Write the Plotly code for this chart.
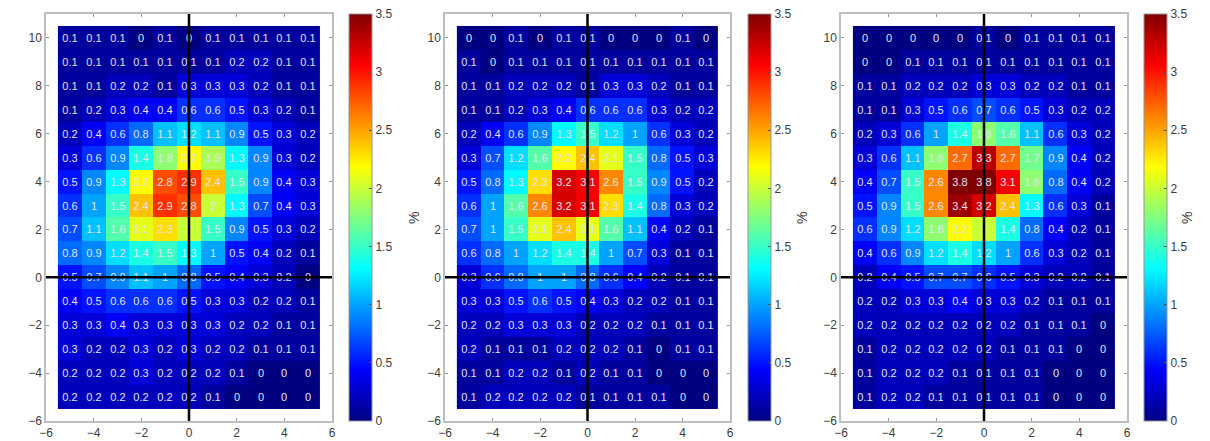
import plotly.graph_objects as go

x_centers = [-5, -4, -3, -2, -1, 0, 1, 2, 3, 4, 5]
y_centers = [10, 9, 8, 7, 6, 5, 4, 3, 2, 1, 0, -1, -2, -3, -4, -5]

panel1_values = [
    [0.1, 0.1, 0.1, 0, 0.1, 0, 0.1, 0.1, 0.1, 0.1, 0.1],
    [0.1, 0.1, 0.1, 0.1, 0.1, 0.1, 0.1, 0.2, 0.2, 0.1, 0.1],
    [0.1, 0.1, 0.2, 0.2, 0.1, 0.3, 0.3, 0.3, 0.2, 0.1, 0.1],
    [0.1, 0.2, 0.3, 0.4, 0.4, 0.6, 0.6, 0.5, 0.3, 0.2, 0.1],
    [0.2, 0.4, 0.6, 0.8, 1.1, 1.2, 1.1, 0.9, 0.5, 0.3, 0.2],
    [0.3, 0.6, 0.9, 1.4, 1.8, 2.2, 1.9, 1.3, 0.9, 0.3, 0.2],
    [0.5, 0.9, 1.3, 2.2, 2.8, 2.9, 2.4, 1.5, 0.9, 0.4, 0.3],
    [0.6, 1, 1.5, 2.4, 2.9, 2.8, 2, 1.3, 0.7, 0.4, 0.3],
    [0.7, 1.1, 1.6, 2.1, 2.3, 2, 1.5, 0.9, 0.5, 0.3, 0.2],
    [0.8, 0.9, 1.2, 1.4, 1.5, 1.3, 1, 0.5, 0.4, 0.2, 0.1],
    [0.5, 0.7, 0.9, 1.1, 1, 0.8, 0.5, 0.4, 0.3, 0.2, 0],
    [0.4, 0.5, 0.6, 0.6, 0.6, 0.5, 0.3, 0.3, 0.2, 0.2, 0.1],
    [0.3, 0.3, 0.4, 0.3, 0.3, 0.3, 0.3, 0.2, 0.2, 0.1, 0.1],
    [0.3, 0.2, 0.2, 0.3, 0.2, 0.3, 0.2, 0.2, 0.1, 0.1, 0.1],
    [0.2, 0.2, 0.2, 0.3, 0.2, 0.2, 0.2, 0.1, 0, 0, 0],
    [0.2, 0.2, 0.2, 0.2, 0.2, 0.2, 0.1, 0, 0, 0, 0],
]

panel2_values = [
    [0, 0, 0.1, 0, 0.1, 0.1, 0, 0, 0, 0.1, 0],
    [0.1, 0, 0.1, 0.1, 0.1, 0.1, 0.1, 0.1, 0.1, 0.1, 0.1],
    [0.1, 0.1, 0.2, 0.2, 0.2, 0.1, 0.3, 0.3, 0.2, 0.1, 0.1],
    [0.1, 0.1, 0.2, 0.3, 0.4, 0.6, 0.6, 0.6, 0.3, 0.2, 0.2],
    [0.2, 0.4, 0.6, 0.9, 1.3, 1.5, 1.2, 1, 0.6, 0.3, 0.2],
    [0.3, 0.7, 1.2, 1.6, 2.2, 2.4, 2.1, 1.5, 0.8, 0.5, 0.3],
    [0.5, 0.8, 1.3, 2.3, 3.2, 3.1, 2.6, 1.5, 0.9, 0.5, 0.2],
    [0.6, 1, 1.6, 2.6, 3.2, 3.1, 2.3, 1.4, 0.8, 0.3, 0.2],
    [0.7, 1, 1.5, 2.1, 2.4, 2.1, 1.6, 1.1, 0.4, 0.2, 0.1],
    [0.6, 0.8, 1, 1.2, 1.4, 1.4, 1, 0.7, 0.3, 0.1, 0.1],
    [0.3, 0.6, 0.8, 1, 1, 0.8, 0.6, 0.4, 0.2, 0.1, 0.1],
    [0.3, 0.3, 0.5, 0.6, 0.5, 0.4, 0.3, 0.2, 0.2, 0.1, 0.1],
    [0.2, 0.2, 0.3, 0.3, 0.3, 0.2, 0.2, 0.2, 0.1, 0.1, 0.1],
    [0.2, 0.1, 0.1, 0.1, 0.2, 0.2, 0.2, 0.1, 0, 0.1, 0.1],
    [0.1, 0.1, 0.2, 0.2, 0.1, 0.2, 0.1, 0.1, 0, 0, 0],
    [0.1, 0.2, 0.2, 0.2, 0.2, 0.1, 0.1, 0.1, 0.1, 0, 0],
]

panel3_values = [
    [0, 0, 0, 0, 0, 0.1, 0, 0.1, 0.1, 0.1, 0.1],
    [0, 0, 0.1, 0.1, 0.1, 0.1, 0.1, 0.1, 0.1, 0.1, 0.1],
    [0.1, 0.1, 0.2, 0.2, 0.2, 0.3, 0.3, 0.2, 0.2, 0.1, 0.1],
    [0.1, 0.1, 0.3, 0.5, 0.6, 0.7, 0.6, 0.5, 0.3, 0.2, 0.2],
    [0.2, 0.3, 0.6, 1, 1.4, 1.8, 1.6, 1.1, 0.6, 0.3, 0.2],
    [0.3, 0.6, 1.1, 1.8, 2.7, 3.3, 2.7, 1.7, 0.9, 0.4, 0.2],
    [0.4, 0.7, 1.5, 2.6, 3.8, 3.8, 3.1, 1.8, 0.8, 0.4, 0.2],
    [0.5, 0.9, 1.5, 2.6, 3.4, 3.2, 2.4, 1.3, 0.6, 0.3, 0.1],
    [0.6, 0.9, 1.2, 1.8, 2.2, 2, 1.4, 0.8, 0.4, 0.2, 0.1],
    [0.4, 0.6, 0.9, 1.2, 1.4, 1.2, 1, 0.6, 0.3, 0.2, 0.1],
    [0.2, 0.4, 0.5, 0.7, 0.7, 0.6, 0.5, 0.3, 0.2, 0.2, 0.1],
    [0.2, 0.2, 0.3, 0.3, 0.4, 0.3, 0.3, 0.2, 0.1, 0.1, 0.1],
    [0.2, 0.2, 0.2, 0.2, 0.2, 0.2, 0.2, 0.1, 0.1, 0.1, 0],
    [0.1, 0.2, 0.2, 0.2, 0.2, 0.2, 0.1, 0.1, 0.1, 0, 0],
    [0.1, 0.2, 0.2, 0.2, 0.1, 0.1, 0.1, 0.1, 0, 0, 0],
    [0.1, 0.2, 0.2, 0.1, 0.1, 0.1, 0.1, 0.1, 0, 0, 0],
]

x_ticks = [-6, -4, -2, 0, 2, 4, 6]
y_ticks = [-6, -4, -2, 0, 2, 4, 6, 8, 10]
cbar_ticks = [0, 0.5, 1, 1.5, 2, 2.5, 3, 3.5]
cbar_title = "%"

jet = [
    [0.0, "rgb(0,0,128)"],
    [0.125, "rgb(0,0,255)"],
    [0.375, "rgb(0,255,255)"],
    [0.625, "rgb(255,255,0)"],
    [0.875, "rgb(255,0,0)"],
    [1.0, "rgb(128,0,0)"],
]

W, H = 1210, 441
OFF = 8  # page body margin offset of the figure in the browser
ax_px = [(46 - OFF, 332 - OFF), (445 - OFF, 730 - OFF), (841 - OFF, 1127 - OFF)]
cb_px = [349 - OFF, 748 - OFF, 1144 - OFF]
pct_px = [404 - OFF, 802 - OFF, 1197 - OFF]
top_px, bot_px = 14 - OFF, 421 - OFF
pct_y = 218 - OFF

def fmt(v):
    return f"{v:g}"

fig = go.Figure()
panels = [panel1_values, panel2_values, panel3_values]
font_family = "Liberation Sans, Arial, sans-serif"

for i, vals in enumerate(panels):
    xa = "x" if i == 0 else f"x{i+1}"
    ya = "y" if i == 0 else f"y{i+1}"
    fig.add_trace(go.Heatmap(
        x=x_centers, y=y_centers, z=vals,
        text=[[fmt(v) for v in row] for row in vals],
        texttemplate="%{text}",
        textfont=dict(family=font_family, size=11, color="rgb(225,228,240)"),
        colorscale=jet, zmin=0, zmax=3.5,
        xaxis=xa, yaxis=ya,
        hoverinfo="skip",
        colorbar=dict(
            x=cb_px[i] / W, xanchor="left", xpad=0, ypad=0,
            y=1 - (top_px + bot_px) / 2 / H, yanchor="middle",
            len=bot_px - top_px, lenmode="pixels",
            thickness=23, thicknessmode="pixels",
            outlinewidth=1, outlinecolor="rgb(150,150,150)",
            tickvals=cbar_ticks, ticks="inside", ticklen=3,
            tickcolor="rgb(80,80,80)",
            ticklabeloverflow="allow",
            tickfont=dict(family=font_family, size=12, color="rgb(60,60,60)"),
        ),
    ))
    axis_common = dict(
        showgrid=False, zeroline=False, showline=True, mirror="ticks",
        linecolor="rgb(190,190,190)", linewidth=1.5,
        ticks="inside", ticklen=3, tickcolor="rgb(150,150,150)",
        tickfont=dict(family=font_family, size=12, color="rgb(60,60,60)"),
        automargin=False,
    )
    xkey = "xaxis" if i == 0 else f"xaxis{i+1}"
    ykey = "yaxis" if i == 0 else f"yaxis{i+1}"
    fig.update_layout(**{
        xkey: dict(axis_common, domain=[ax_px[i][0] / W, ax_px[i][1] / W],
                   range=[-6, 6], tickvals=x_ticks, anchor=ya),
        ykey: dict(axis_common, domain=[1 - bot_px / H, 1 - top_px / H],
                   range=[-6, 11], tickvals=y_ticks, anchor=xa),
    })
    fig.add_shape(type="line", xref=xa, yref=ya, x0=0, x1=0, y0=-6, y1=11,
                  line=dict(color="black", width=2.5))
    fig.add_shape(type="line", xref=xa, yref=ya, x0=-6, x1=6, y0=0, y1=0,
                  line=dict(color="black", width=2.5))
    fig.add_annotation(text=cbar_title, xref="paper", yref="paper",
                       x=pct_px[i] / W, y=1 - pct_y / H, showarrow=False,
                       textangle=-90,
                       font=dict(family=font_family, size=14, color="rgb(60,60,60)"))

fig.update_layout(
    width=W, height=H,
    margin=dict(l=0, r=0, t=0, b=0, autoexpand=False),
    paper_bgcolor="white", plot_bgcolor="white",
    showlegend=False,
)

fig.write_html("out.html")
